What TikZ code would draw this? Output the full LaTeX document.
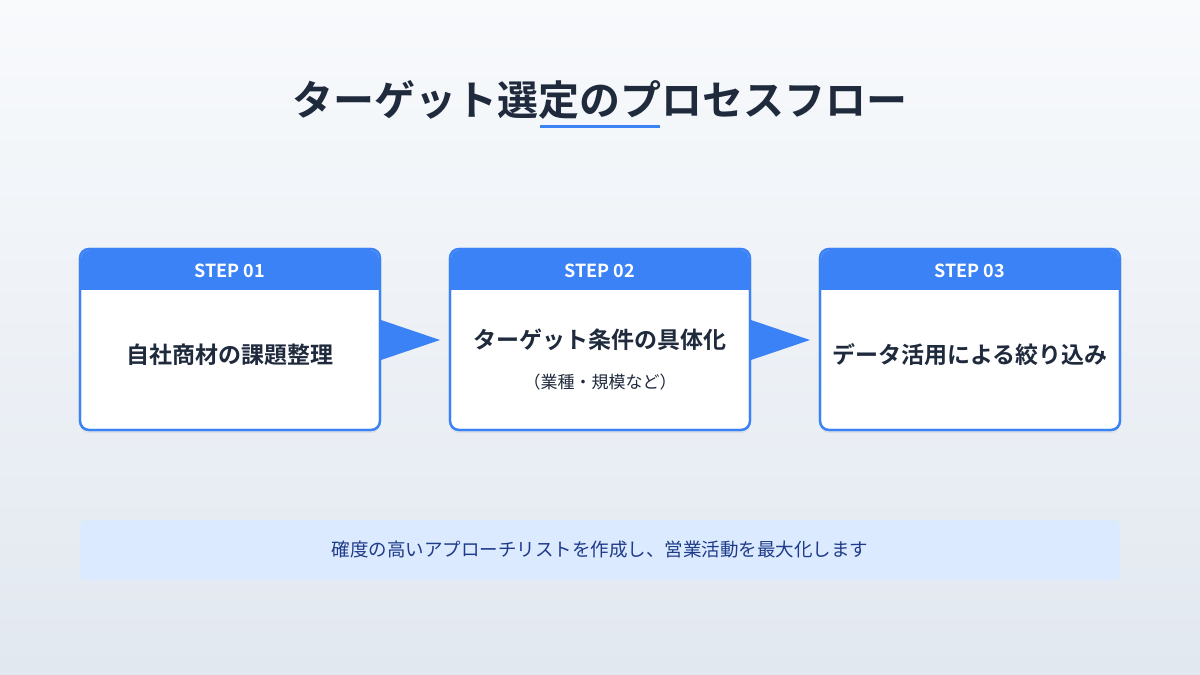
\documentclass[tikz,border=0pt]{standalone}
\usepackage{fontspec}
\setmainfont{Noto Sans CJK JP}
\newfontfamily\jpb{Noto Sans CJK JP Bold}
\usetikzlibrary{shadows}
\definecolor{ink}{HTML}{1F2A3D}
\definecolor{blu}{HTML}{3B82F6}
\definecolor{bandbg}{HTML}{DBEAFE}
\definecolor{bandtx}{HTML}{1E3A8A}
\definecolor{bgtop}{HTML}{F8FAFC}
\definecolor{bgbot}{HTML}{E2E8F0}
\tikzset{
 card/.style={draw=blu,line width=2.2pt,fill=white,rounded corners=9pt,minimum width=300pt,minimum height=181pt,inner sep=0pt},
 head/.style={text=white,font=\jpb\fontsize{18}{20}\selectfont},
 main/.style={text=ink,font=\jpb\fontsize{23}{26}\selectfont},
 sub/.style={text=ink,font=\fontsize{17}{20}\selectfont},
 arr/.style={fill=blu,draw=none}
}
\begin{document}
\begin{tikzpicture}[x=1pt,y=-1pt]
\useasboundingbox (0,0) rectangle (1200,675);
\shade[top color=bgtop,bottom color=bgbot] (0,0) rectangle (1200,675);
\node[text=ink,font=\jpb\fontsize{41}{46}\selectfont] (title) at (600,100) {ターゲット選定のプロセスフロー};
\draw[blu,line width=3pt] (540,126) -- (660,126);
\foreach \i/\x/\s in {1/230/STEP 01,2/600/STEP 02,3/970/STEP 03}{
  \node[card,drop shadow={opacity=0.12,shadow xshift=0pt,shadow yshift=-3pt}] (c\i) at (\x,339.5) {};
  \begin{scope}
  \clip[rounded corners=9pt] (\x-149,250) rectangle (\x+149,429);
  \fill[blu] (\x-150,249) rectangle (\x+150,290);
  \end{scope}
  \draw[blu,line width=2.2pt,rounded corners=9pt] (\x-150,249) rectangle (\x+150,430);
  \node[head] (h\i) at (\x,271) {\s};
}
\node[main] (t1) at (230,355) {自社商材の課題整理};
\node[main] (t2) at (600,340) {ターゲット条件の具体化};
\node[sub] (s2) at (600,382) {（業種・規模など）};
\node[main] (t3) at (970,355) {データ活用による絞り込み};
\coordinate (a1) at (440,340);
\coordinate (a2) at (810,340);
\fill[arr] (381,320) -- (a1) -- (381,360) -- cycle;
\fill[arr] (751,320) -- (a2) -- (751,360) -- cycle;
\fill[bandbg,rounded corners=6pt] (80,520) rectangle (1120,580);
\node[text=bandtx,font=\fontsize{18.5}{22}\selectfont] (band) at (600,550) {確度の高いアプローチリストを作成し、営業活動を最大化します};
\end{tikzpicture}
\end{document}
